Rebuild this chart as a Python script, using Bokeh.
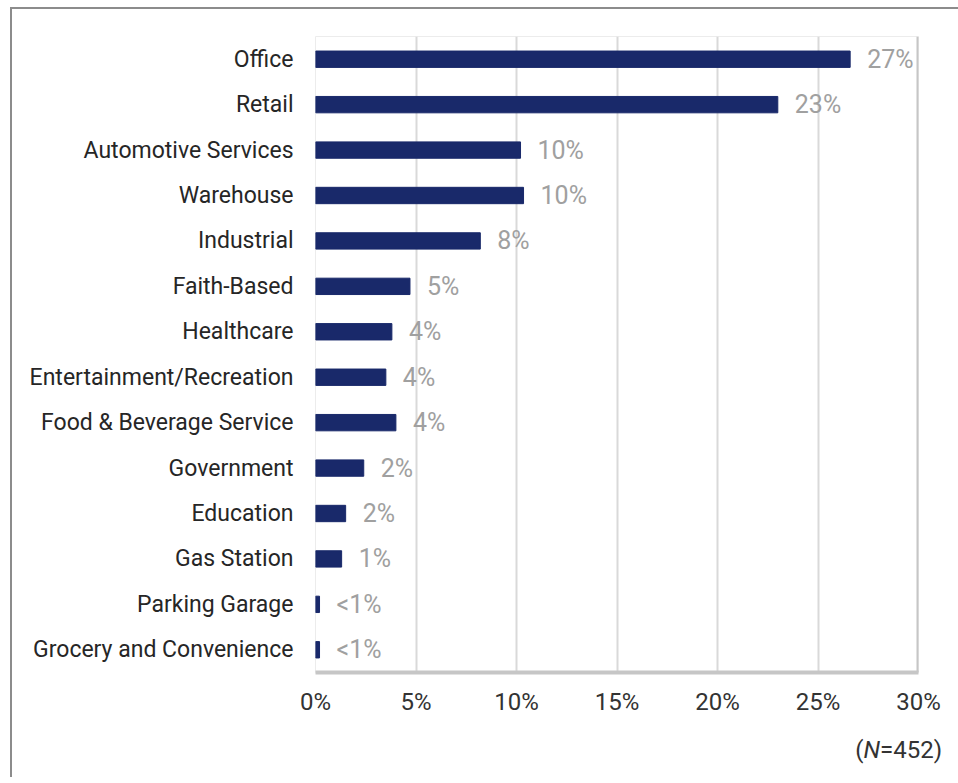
from bokeh.plotting import figure
from bokeh.models import (ColumnDataSource, FixedTicker, PrintfTickFormatter,
                          FactorRange, Span, Div)
from bokeh.layouts import column
from bokeh.core.properties import value
from bokeh.embed import file_html
from bokeh.resources import INLINE

categories = ["Office", "Retail", "Automotive Services", "Warehouse", "Industrial",
              "Faith-Based", "Healthcare", "Entertainment/Recreation",
              "Food & Beverage Service", "Government", "Education", "Gas Station",
              "Parking Garage", "Grocery and Convenience"]
shares = [26.6, 23.0, 10.2, 10.35, 8.2, 4.7, 3.8, 3.5, 4.0, 2.4, 1.5, 1.3, 0.2, 0.2]
share_labels = ["27%", "23%", "10%", "10%", "8%", "5%", "4%", "4%", "4%", "2%", "2%", "1%", "<1%", "<1%"]
x_ticks = [0, 5, 10, 15, 20, 25, 30]
note_n = "452"

FONT = "Roboto"
NAVY = "#19296a"

src = ColumnDataSource(dict(cat=categories, val=shares, lab=share_labels))

W, H = 938, 716
BL, BR, BT, BB = 303, 32, 27, 53

p = figure(width=W, height=H, output_backend="svg", toolbar_location=None,
           y_range=FactorRange(*reversed(categories)), x_range=(0, 30),
           min_border_left=BL, min_border_right=BR, min_border_top=BT, min_border_bottom=BB)
p.outline_line_color = "#ececec"
p.outline_line_width = 1
p.background_fill_color = "white"
p.border_fill_color = "white"

p.hbar(y="cat", right="val", left=0, height=0.36, source=src, color=NAVY)
p.text(x="val", y="cat", text="lab", source=src, x_offset=17, text_align="left",
       text_baseline="middle", text_color="#a0a0a0", text_font=value(FONT),
       text_font_size="25px")

p.xgrid.ticker = FixedTicker(ticks=x_ticks)
p.xgrid.grid_line_color = "#d9d9d9"
p.xgrid.grid_line_width = 2
p.ygrid.grid_line_color = None

# right edge shadow of the plot area
p.add_layout(Span(location=x_ticks[-1], dimension="height", line_color="#c6c6c6",
                  line_width=4))

p.xaxis.ticker = FixedTicker(ticks=x_ticks)
p.xaxis.formatter = PrintfTickFormatter(format="%d%%")
p.xaxis.axis_line_color = "#c6c6c6"
p.xaxis.axis_line_width = 4
p.xaxis.major_tick_line_color = None
p.xaxis.minor_tick_line_color = None
p.xaxis.major_tick_out = 0
p.xaxis.major_label_standoff = 15
p.xaxis.major_label_text_font = FONT
p.xaxis.major_label_text_font_size = "24px"
p.xaxis.major_label_text_color = "#333333"

p.yaxis.axis_line_color = None
p.yaxis.major_tick_line_color = None
p.yaxis.major_tick_out = 0
p.yaxis.major_label_standoff = 22
p.yaxis.major_label_text_font = FONT
p.yaxis.major_label_text_font_size = "23px"
p.yaxis.major_label_text_color = "#262626"

note = Div(width=W, height=42,
           text=('<div style="width:925px;font-family:Roboto;font-size:24px;color:#333333;'
                 'text-align:right;line-height:24px;padding-top:8px;">'
                 '(<i>N</i>=' + note_n + ')</div>'))

layout = column(p, note, spacing=0)
layout.margin = (7, 0, 0, 10)
layout.styles = {"border-left": "2px solid #8c8c8c", "border-top": "2px solid #8c8c8c"}

open("out.html", "w").write(file_html(layout, INLINE))
